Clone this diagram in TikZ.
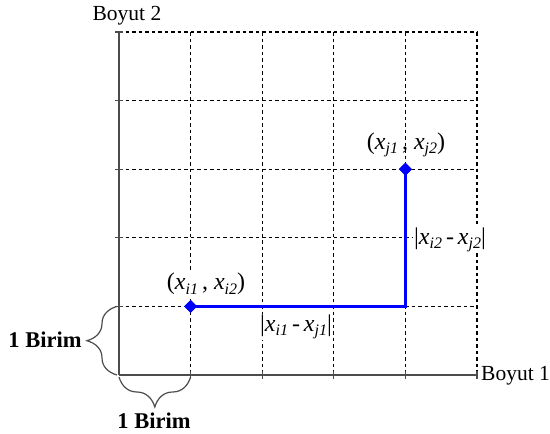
\documentclass[tikz,border=0pt]{standalone}
\usepackage{fontspec}
\setmainfont{Liberation Serif}
\usetikzlibrary{decorations.pathreplacing,shapes.geometric}
\newcommand{\vx}[1]{\textit{x}\raisebox{-0.4ex}{\fontsize{16}{16}\selectfont\textit{#1}}}
\begin{document}
\begin{tikzpicture}[x=1pt,y=-1pt,
  gridline/.style={black, line width=1.1pt, dash pattern=on 3.5pt off 3pt},
  axisline/.style={black!70, line width=1.6pt},
  tick/.style={black!70, line width=1.2pt},
  conn/.style={blue, line width=3pt},
  pt/.style={diamond, fill=blue, minimum size=13pt, inner sep=0pt},
  lbl/.style={font=\fontsize{21.5}{25}\selectfont, inner sep=1pt},
  mlbl/.style={font=\fontsize{24}{28}\selectfont, inner sep=1pt},
  wlbl/.style={mlbl, fill=white},
  bracestyle/.style={black!70, line width=1.2pt, decorate, decoration={brace, amplitude=30pt}},
  blbl/.style={font=\fontsize{22.5}{26}\selectfont\bfseries, inner sep=1pt}]
\useasboundingbox (0,0) rectangle (550,434);
% grid
\foreach \k in {1,...,5} {
  \draw[gridline] ({119+71.6*\k},32) -- ({119+71.6*\k},375);
  \draw[gridline] (119,{375-68.6*\k}) -- (477,{375-68.6*\k});
  \draw[tick] ({119+71.6*\k},371) -- ({119+71.6*\k},379);
  \draw[tick] (115,{375-68.6*\k}) -- (123,{375-68.6*\k});
}
% axes
\coordinate (O) at (119,375);
\coordinate (xend) at (477,375);
\coordinate (yend) at (119,32);
\draw[axisline] (O) -- (xend);
\draw[axisline] (O) -- (yend);
\node[lbl, anchor=west] (b1) at (480,376) {Boyut 1};
\node[lbl] (b2) at (127,16) {Boyut 2};
% points
\node[pt] (pi) at (190.6,306.4) {};
\node[pt] (pj) at (405.4,169.2) {};
\coordinate (c) at (405.4,306.4);
\draw[conn] (pi.center) -- (c) -- (pj.center);
\node[pt] at (pi.center) {};
\node[pt] at (pj.center) {};
% labels
\node[wlbl] (li) at (206,284) {(\vx{i1}\,, \vx{i2})};
\node[mlbl] (lj) at (406,145) {(\vx{j1}\,, \vx{j2})};
\node[wlbl] (dv) at (450,240) {|\vx{i2}\,-\,\vx{j2}|};
\node[wlbl] (dh) at (296,327) {|\vx{i1}\,-\,\vx{j1}|};
% braces
\coordinate (lb1) at (117,375);
\coordinate (lb2) at (117,306.4);
\coordinate (bb1) at (119,377);
\coordinate (bb2) at (190.6,377);
\draw[bracestyle] (lb1) -- (lb2);
\draw[bracestyle, decoration={mirror}] (bb1) -- (bb2);
\node[blbl] (u1) at (45,340) {1 Birim};
\node[blbl] (u2) at (154,421) {1 Birim};
\end{tikzpicture}
\end{document}
